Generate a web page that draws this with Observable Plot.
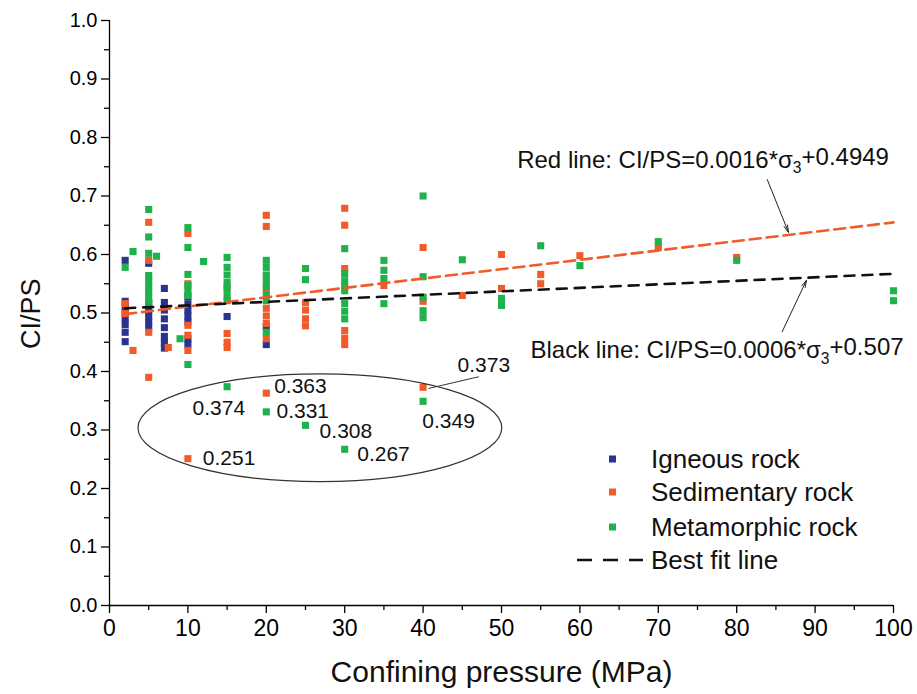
<!DOCTYPE html>
<html><head><meta charset="utf-8">
<script src="https://cdn.jsdelivr.net/npm/d3@7"></script>
<script src="https://cdn.jsdelivr.net/npm/@observablehq/plot@0.6"></script>
<style>
body{margin:0;background:#fff;}
#chart{position:relative;width:917px;height:694px;}
#chart svg{font-family:"Liberation Sans",Arial,sans-serif;overflow:visible;}
g[aria-label="x-axis tick label"] text{font-family:"Liberation Sans Narrow","Liberation Sans",Arial,sans-serif;font-size:23px;}
g[aria-label="y-axis tick label"] text{font-family:"Liberation Sans",Arial,sans-serif;font-size:20px;}
</style></head><body><div id="chart"></div>
<script>
// Igneous rock
const igneousX = [2,2,2,2,2,2,2,2, 5,5,5,5,5,5, 7,7,7,7,7,7,7,7, 10,10,10,10,10,10,10, 15, 20,20];
const igneousY = [0.59,0.52,0.51,0.50,0.49,0.48,0.467,0.451, 0.585,0.516,0.505,0.495,0.485,0.475, 0.542,0.518,0.505,0.49,0.475,0.46,0.45,0.44, 0.527,0.515,0.505,0.495,0.485,0.456,0.446, 0.494, 0.477,0.446];
// Sedimentary rock
const sedimentaryX = [2,2,3, 5,5,5,5, 7.5, 10,10,10,10,10,10, 15,15,15,15, 20,20,20,20,20,20,20,20, 25,25,25,25, 30,30,30,30,30,30, 35, 40,40,40, 45, 50,50, 55,55, 60, 70, 80];
const sedimentaryY = [0.516,0.499,0.436, 0.655,0.59,0.467,0.39, 0.441, 0.636,0.55,0.479,0.462,0.436,0.251, 0.544,0.465,0.45,0.441, 0.667,0.648,0.54,0.508,0.495,0.482,0.456,0.363, 0.518,0.505,0.49,0.478, 0.679,0.65,0.576,0.47,0.457,0.446, 0.547, 0.612,0.52,0.373, 0.53, 0.6,0.542, 0.566,0.55, 0.598, 0.612, 0.595];
// Metamorphic rock
const metamorphicX = [2,3, 5,5,5,5,5,5,5,5,5, 6, 9, 10,10,10,10,10,10,10, 12, 15,15,15,15,15,15,15,15, 20,20,20,20,20,20,20,20,20, 25,25,25, 30,30,30,30,30,30,30,30,30, 35,35,35,35, 40,40,40,40,40,40, 45, 50,50, 55, 60, 70, 80, 100,100];
const metamorphicY = [0.578,0.605, 0.677,0.63,0.602,0.564,0.555,0.545,0.535,0.525,0.518, 0.597, 0.456, 0.646,0.612,0.566,0.547,0.538,0.53,0.412, 0.588, 0.595,0.578,0.565,0.552,0.54,0.528,0.521,0.374, 0.59,0.578,0.565,0.555,0.545,0.53,0.521,0.467,0.331, 0.576,0.557,0.308, 0.61,0.567,0.555,0.545,0.538,0.516,0.503,0.49,0.267, 0.59,0.573,0.559,0.516, 0.70,0.562,0.527,0.504,0.492,0.349, 0.591, 0.525,0.513, 0.615, 0.581, 0.622, 0.59, 0.538,0.521];

// Fit lines (slope, intercept) and extent
const fitNames = ["Red line", "Black line"];
const fitSlopes = [0.0016, 0.0006];
const fitIntercepts = [0.4949, 0.507];
const fitRange = [2, 100];

// Outlier value labels
const outlierLabels = ["0.374","0.363","0.331","0.308","0.267","0.251","0.349","0.373"];
const outlierLabelX = [10.6, 21.0, 21.3, 26.8, 31.6, 11.9, 39.9, 44.4];
const outlierLabelY = [0.338, 0.374, 0.332, 0.297, 0.258, 0.251, 0.315, 0.41];

// Equation annotations
const eqTexts = ["Red line: CI/PS=0.0016*σ3+0.4949", "Black line: CI/PS=0.0006*σ3+0.507"];
const eqX = [52.0, 53.7];
const eqY = [0.761, 0.436];
const arrowFrom = [[83.9, 0.728], [85.8, 0.468]];
const arrowTo = [[86.6, 0.638], [88.9, 0.556]];
const leaderFrom = [40.7, 0.371];
const leaderTo = [47.1, 0.391];
const ellipse = {cx: 26.9, cy: 0.303, rx: 23.2, ry: 0.092};

const seriesNames = ["Igneous rock", "Sedimentary rock", "Metamorphic rock"];
const seriesColors = ["#2b3391", "#f15a29", "#1fb14b"];

const xTicks = d3.range(0, 101, 10);
const xMinor = d3.range(5, 100, 10);
const yTicks = d3.range(0, 11).map(i => i / 10);
const yMinor = d3.range(0, 10).map(i => (2 * i + 1) / 20);

const points = [];
[[igneousX, igneousY], [sedimentaryX, sedimentaryY], [metamorphicX, metamorphicY]].forEach(([xs, ys], s) => {
  xs.forEach((x, i) => points.push({x, y: ys[i], type: seriesNames[s]}));
});
const fits = fitNames.map((n, i) => fitRange.map(x => ({x, y: fitSlopes[i] * x + fitIntercepts[i], name: n})));
const outliers = outlierLabels.map((t, i) => ({t, x: outlierLabelX[i], y: outlierLabelY[i]}));
const eqs = eqTexts.map((t, i) => ({t, x: eqX[i], y: eqY[i]}));
const arrows = arrowFrom.map((f, i) => ({x1: f[0], y1: f[1], x2: arrowTo[i][0], y2: arrowTo[i][1]}));

const narrow = "Liberation Sans Narrow, Liberation Sans, Arial";
const plot = Plot.plot({
  width: 917, height: 694,
  marginLeft: 109, marginRight: 24, marginTop: 20, marginBottom: 89,
  x: {domain: [0, 100]},
  y: {domain: [0, 1]},
  color: {domain: seriesNames, range: seriesColors},
  marks: [
    Plot.axisX(xTicks, {tickSize: 8, tickPadding: 6, label: null, strokeWidth: 1.3}),
    Plot.axisX(xMinor, {tickSize: 5, tickFormat: () => "", label: null, strokeWidth: 1.3}),
    Plot.axisY(yTicks, {tickSize: 8, tickPadding: 4, tickFormat: d => d.toFixed(1), label: null, strokeWidth: 1.3}),
    Plot.axisY(yMinor, {tickSize: 5, tickFormat: () => "", label: null, strokeWidth: 1.3}),
    Plot.ruleX([0], {strokeWidth: 1.3}),
    Plot.ruleY([0], {strokeWidth: 1.3}),
    Plot.dot(points, {x: "x", y: "y", fill: "type", symbol: "square", r: 4}),
    Plot.line(fits[0], {x: "x", y: "y", stroke: "#f15a29", strokeWidth: 2.6, strokeDasharray: "11,6"}),
    Plot.line(fits[1], {x: "x", y: "y", stroke: "#111", strokeWidth: 2.6, strokeDasharray: "10,8"}),
    Plot.text(outliers, {x: "x", y: "y", text: "t", textAnchor: "start", fontSize: 21, fill: "#111"}),
    Plot.text(eqs, {x: "x", y: "y", text: "t", textAnchor: "start", fontSize: 24, fill: "#111"}),
    Plot.arrow(arrows, {x1: "x1", y1: "y1", x2: "x2", y2: "y2", stroke: "#222", strokeWidth: 1, headLength: 11, headAngle: 30}),
    Plot.link([{x1: leaderFrom[0], y1: leaderFrom[1], x2: leaderTo[0], y2: leaderTo[1]}], {x1: "x1", y1: "y1", x2: "x2", y2: "y2", stroke: "#333", strokeWidth: 1}),
    Plot.text(["Confining pressure (MPa)"], {frameAnchor: "bottom", dy: 76, fontSize: 30, fill: "#111", fontFamily: narrow}),
    Plot.text(["CI/PS"], {frameAnchor: "left", dx: -78, dy: 36, rotate: -90, fontSize: 27, fill: "#111", fontFamily: narrow})
  ]
});
document.getElementById("chart").appendChild(plot);

const svg = d3.select(plot);
const sx = plot.scale("x"), sy = plot.scale("y");
// ellipse around outliers
svg.append("ellipse")
  .attr("cx", sx.apply(ellipse.cx)).attr("cy", sy.apply(ellipse.cy))
  .attr("rx", sx.apply(ellipse.cx + ellipse.rx) - sx.apply(ellipse.cx))
  .attr("ry", sy.apply(ellipse.cy - ellipse.ry) - sy.apply(ellipse.cy))
  .attr("fill", "none").attr("stroke", "#333").attr("stroke-width", 1.2);

// subscript 3 in equations
svg.selectAll("text").each(function() {
  const t = this.textContent;
  if (t.includes("σ3")) {
    const [a, b] = t.split("σ3");
    this.textContent = "";
    d3.select(this).append("tspan").text(a + "σ");
    d3.select(this).append("tspan").attr("font-size", "0.65em").attr("dy", "0.35em").text("3");
    d3.select(this).append("tspan").attr("dy", "-0.35em").text(b);
  }
});

// legend
const lg = svg.append("g").attr("font-size", 26).attr("fill", "#111").attr("text-anchor", "start");
const legendRows = [459, 492, 527];
seriesNames.forEach((n, i) => {
  lg.append("rect").attr("x", 609).attr("y", legendRows[i] - 3.5).attr("width", 7).attr("height", 7).attr("fill", seriesColors[i]);
  lg.append("text").attr("x", 651).attr("y", legendRows[i]).attr("dy", "0.35em").text(n);
});
lg.append("line").attr("x1", 577).attr("x2", 643).attr("y1", 560).attr("y2", 560)
  .attr("stroke", "#111").attr("stroke-width", 2.6).attr("stroke-dasharray", "15,11");
lg.append("text").attr("x", 651).attr("y", 560).attr("dy", "0.35em").text("Best fit line");
</script></body></html>
